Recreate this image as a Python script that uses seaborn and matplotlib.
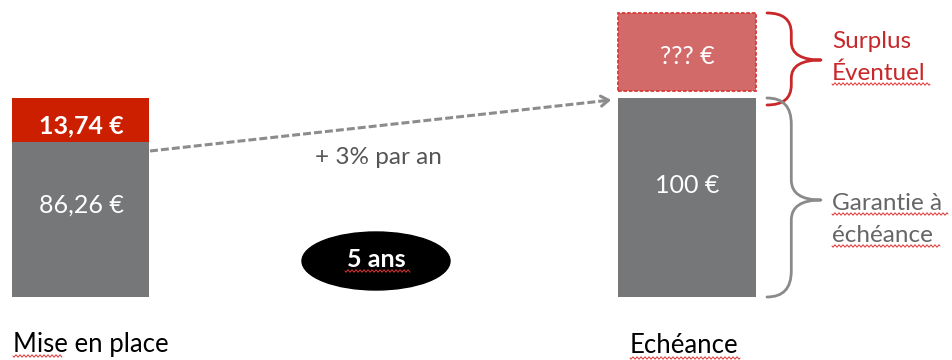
import matplotlib
matplotlib.use("Agg")
import matplotlib.pyplot as plt
import seaborn as sns
import pandas as pd
import numpy as np
from matplotlib.path import Path
from matplotlib.patches import PathPatch, Ellipse

# ---- data ----
categories = ["Mise en place", "Echéance"]
garantie = [78, 100]          # grey segment heights (as drawn)
prime = [22, 0]               # red segment heights (as drawn)
surplus_cat = ["Echéance"]
surplus = [39]                # dashed surplus box height
surplus_bottom = 103.5
garantie_labels = ["86,26 €", "100 €"]
prime_label = "13,74 €"
surplus_label = "??? €"
taux_label = "+ 3% par an"
duree_label = "5 ans"

RED = "#CC1F00"
GREY = "#767779"
SURPLUS_FILL = "#D36A6A"
SURPLUS_EDGE = "#D83A3A"
BRACE_RED = "#C8282A"
BRACE_GREY = "#8A8A8A"

sns.set_theme(style="white")
plt.rcParams["font.family"] = ["Lato", "DejaVu Sans"]

fig = plt.figure(figsize=(9.52, 3.6), dpi=100)
ax = fig.add_axes([0, 0, 1, 1])

df = pd.DataFrame({"cat": categories,
                   "garantie": garantie,
                   "total": [g + p for g, p in zip(garantie, prime)]})
df_s = pd.DataFrame({"cat": surplus_cat, "surplus": surplus})

W = 0.2275
sns.barplot(data=df, x="cat", y="total", order=categories, color=RED,
            saturation=1, width=W, errorbar=None, linewidth=0, ax=ax)
sns.barplot(data=df, x="cat", y="garantie", order=categories, color=GREY,
            saturation=1, width=W, errorbar=None, linewidth=0, ax=ax)
sns.barplot(data=df_s, x="cat", y="surplus", order=categories, color=SURPLUS_FILL,
            saturation=1, width=W, errorbar=None, bottom=surplus_bottom,
            edgecolor=SURPLUS_EDGE, linewidth=1.3, linestyle=(0, (2, 1)), ax=ax)

ax.set_xlim(-80.5 / 606.5, 1 + (952 - 687) / 606.5)
ax.set_ylim(-(360 - 297) / 1.99, 297 / 1.99)
ax.axis("off")

# ---- overlay in pixel coordinates for annotations ----
ov = fig.add_axes([0, 0, 1, 1], facecolor="none")
ov.set_xlim(0, 952)
ov.set_ylim(360, 0)
ov.axis("off")

# value labels
ov.text(81, 133, prime_label, color="white", fontsize=18, fontweight="bold",
        ha="center", va="baseline")
ov.text(81, 213, garantie_labels[0], color="white", fontsize=18,
        ha="center", va="baseline")
ov.text(687, 193, garantie_labels[1], color="white", fontsize=18,
        ha="center", va="baseline")
ov.text(687, 64, surplus_label, color="white", fontsize=18,
        ha="center", va="baseline")

# dashed growth arrow
ov.plot([150, 604], [151, 100.8], color="#8C8C8C", lw=2.2,
        ls=(0, (2.6, 1.0)), solid_capstyle="butt")
ov.annotate("", xy=(614, 99.6), xytext=(602, 101.0),
            arrowprops=dict(arrowstyle="->,head_length=0.45,head_width=0.3",
                            color="#8C8C8C", lw=2.2))
ov.text(378, 164, taux_label, color="#555555", fontsize=17.5,
        ha="center", va="baseline")

# 5 ans ellipse
ov.add_patch(Ellipse((376, 261), 148, 58, color="black"))
ov.text(376, 267, duree_label, color="white", fontsize=18, fontweight="bold",
        ha="center", va="baseline")


def brace(x0, xt, ytop, ybot, ymid, color, r=18, r2=14, lw=2.0):
    xm = x0 + 0.45 * (xt - x0)
    verts = [(x0, ytop), (xm, ytop), (xm, ytop + r),
             (xm, ymid - r2),
             (xm, ymid), (xt, ymid),
             (xm, ymid), (xm, ymid + r2),
             (xm, ybot - r),
             (xm, ybot), (x0, ybot)]
    codes = [Path.MOVETO, Path.CURVE3, Path.CURVE3,
             Path.LINETO,
             Path.CURVE3, Path.CURVE3,
             Path.CURVE3, Path.CURVE3,
             Path.LINETO,
             Path.CURVE3, Path.CURVE3]
    ov.add_patch(PathPatch(Path(verts, codes), fill=False, edgecolor=color,
                           lw=lw, capstyle="round", joinstyle="round"))


brace(767, 821, 13, 105, 60, BRACE_RED, r=20, r2=18)
brace(767, 821, 98, 297, 200, BRACE_GREY, r=26, r2=20)

# side labels
ov.text(832, 48, "Surplus", color=BRACE_RED, fontsize=17.5, ha="left", va="baseline")
ov.text(832, 80, "Éventuel", color=BRACE_RED, fontsize=17.5, ha="left", va="baseline")
ov.text(832, 210, "Garantie à", color="#666666", fontsize=17.5, ha="left", va="baseline")
ov.text(832, 242, "échéance", color="#666666", fontsize=17.5, ha="left", va="baseline")

# category labels
ov.text(13, 352, categories[0], color="black", fontsize=18.5, ha="left", va="baseline")
ov.text(630, 353, categories[1], color="black", fontsize=18.5, ha="left", va="baseline")


def wavy(x0, x1, y, color="#E03535"):
    xs = np.linspace(x0, x1, int((x1 - x0) * 3))
    ov.plot(xs, y + 1.1 * np.sin((xs - x0) / 4.0 * 2 * np.pi), color=color, lw=0.7)


wavy(13, 62, 356)
wavy(832, 930, 84)
wavy(832, 948, 214)
wavy(832, 940, 246)
wavy(345, 410, 271)
wavy(630, 740, 358)

fig.savefig("out.png", dpi=100)
